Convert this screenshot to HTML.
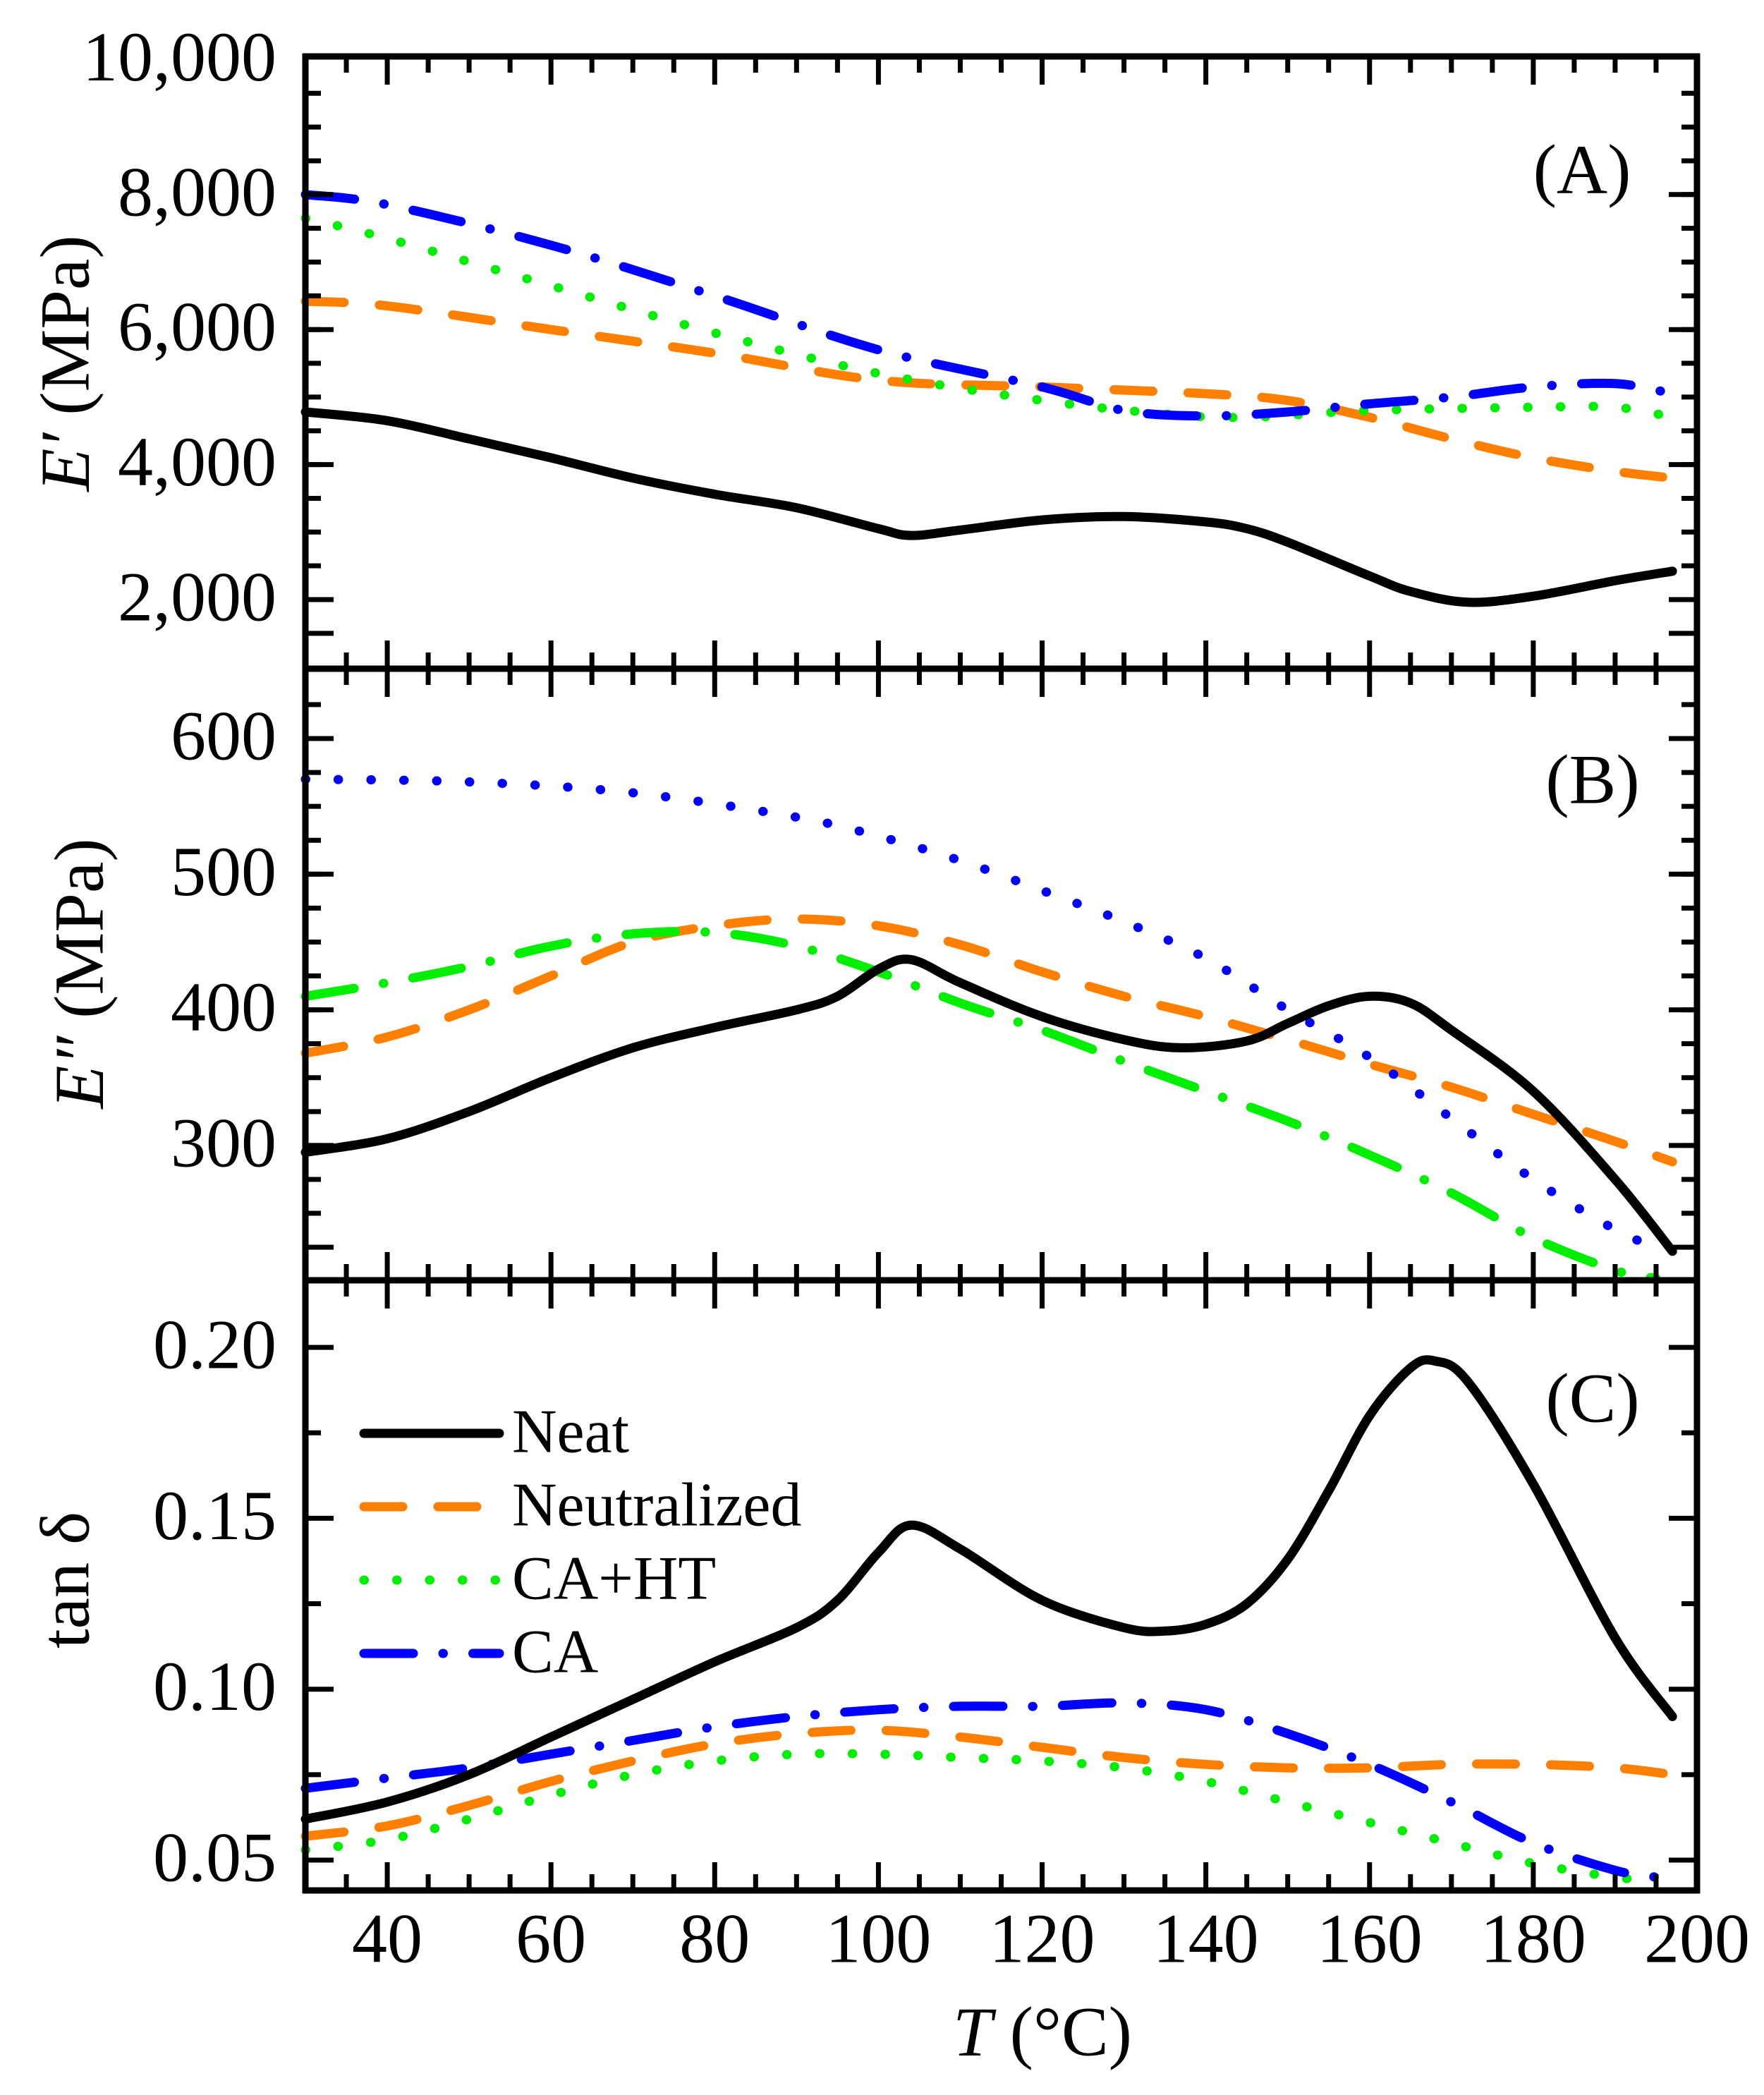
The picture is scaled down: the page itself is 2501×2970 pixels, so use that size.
<!DOCTYPE html>
<html><head><meta charset="utf-8">
<style>
html,body{margin:0;padding:0;background:#fff;}
svg{display:block;font-family:"Liberation Serif","DejaVu Serif",serif;}
</style></head>
<body>
<svg id="chart" xmlns="http://www.w3.org/2000/svg" width="2501" height="2970" viewBox="0 0 2501 2970">
<rect x="0" y="0" width="2501" height="2970" fill="#fff"/>
<g id="marks"></g>
<g id="axes"></g>
</svg>
<script>
// ---- Data ----
const tempA_neat = [30,40,50,60,70,80,90,100,104,110,120,130,140,145,150,160,165,172,180,190,197];
const eA_neat = [4780,4650,4380,4100,3800,3560,3360,3050,2950,3030,3180,3230,3150,3050,2850,2350,2120,1960,2050,2280,2420];
const tempA_neut = [30,40,60,80,100,120,140,150,160,170,180,190,197];
const eA_neut = [6420,6350,6000,5650,5250,5150,5050,4950,4700,4380,4100,3900,3800];
const tempA_caht = [30,40,60,80,100,120,135,145,160,180,190,197];
const eA_caht = [7650,7350,6650,5950,5350,4950,4750,4700,4800,4850,4850,4700];
const tempA_ca = [30,40,60,80,100,120,130,140,150,160,170,180,190,197];
const eA_ca = [8000,7850,7250,6500,5700,5150,4800,4720,4780,4900,5000,5150,5200,5050];

const tempB_neat = [30,40,50,60,70,80,90,95,100,104,110,120,130,137,145,150,155,160,165,170,180,190,197];
const eB_neat = [295,305,325,350,372,387,400,410,430,437,420,395,378,372,377,390,403,410,405,385,340,275,222];
const tempB_neut = [30,40,50,60,70,80,90,100,110,120,130,140,150,160,170,180,190,197];
const eB_neut = [368,380,400,425,450,462,467,462,448,428,410,395,378,360,343,323,303,288];
const tempB_blue = [30,50,70,90,100,110,120,130,140,150,160,170,180,190,195];
const eB_blue = [570,568,560,542,528,510,488,465,438,400,365,320,275,238,225];
const tempB_green = [30,40,50,60,70,80,90,100,110,120,130,140,150,160,170,180,190,195];
const eB_green = [410,420,432,447,456,457,447,428,405,385,362,340,318,293,265,232,208,202];

const tempC_neat = [30,40,50,60,70,80,90,95,100,104,110,120,130,135,140,145,150,155,160,165,168,172,180,190,197];
const tanC_neat = [0.062,0.067,0.075,0.086,0.097,0.108,0.118,0.126,0.140,0.148,0.141,0.126,0.118,0.117,0.119,0.125,0.138,0.158,0.180,0.194,0.196,0.190,0.160,0.115,0.092];
const tempC_neut = [30,40,50,60,70,80,90,100,110,120,130,140,150,160,170,180,190,197];
const tanC_neut = [0.057,0.060,0.066,0.073,0.079,0.084,0.087,0.088,0.086,0.083,0.080,0.078,0.077,0.077,0.078,0.078,0.077,0.075];
const tempC_caht = [30,40,50,60,70,80,90,100,110,120,130,140,150,160,170,180,190,195];
const tanC_caht = [0.053,0.056,0.062,0.069,0.075,0.079,0.081,0.081,0.080,0.079,0.077,0.073,0.067,0.061,0.055,0.049,0.045,0.044];
const tempC_ca = [30,40,50,60,70,80,90,100,110,120,130,140,150,160,170,180,190,195];
const tanC_ca = [0.071,0.074,0.077,0.081,0.085,0.089,0.092,0.094,0.095,0.095,0.096,0.094,0.087,0.078,0.067,0.055,0.047,0.045];

const xTickLabels = ["40","60","80","100","120","140","160","180","200"];
const aTickLabels = ["2,000","4,000","6,000","8,000","10,000"];
const bTickLabels = ["300","400","500","600"];
const cTickLabels = ["0.05","0.10","0.15","0.20"];
const legendLabels = ["Neat","Neutralized","CA+HT","CA"];

// ---- Scales ----
const X0=433, X1=2406;
function xs(t){ return X0 + (t-30)/(200-30)*(X1-X0); }
const PA={top:80,bot:948};
const PB={top:948,bot:1815};
const PC={top:1815,bot:2680};
function ysA(v){ return 850 - (v-2000)*0.0957; }
function ysB(v){ return 1047 - (v-600)*1.923; }
function ysC(v){ return 2637 - (v-0.05)*4846; }

const NS="http://www.w3.org/2000/svg";
const marks=document.getElementById('marks');
const axes=document.getElementById('axes');
function mk(tag, attrs, parent){ const e=document.createElementNS(NS,tag); for(const k in attrs) e.setAttribute(k,attrs[k]); parent.appendChild(e); return e; }

function smoothPath(pts){
  let d="M"+pts[0][0].toFixed(1)+","+pts[0][1].toFixed(1);
  for(let i=0;i<pts.length-1;i++){
    const p0=pts[i-1]||pts[i], p1=pts[i], p2=pts[i+1], p3=pts[i+2]||p2;
    const c1x=p1[0]+(p2[0]-p0[0])/6, c1y=p1[1]+(p2[1]-p0[1])/6;
    const c2x=p2[0]-(p3[0]-p1[0])/6, c2y=p2[1]-(p3[1]-p1[1])/6;
    d+=" C"+c1x.toFixed(1)+","+c1y.toFixed(1)+" "+c2x.toFixed(1)+","+c2y.toFixed(1)+" "+p2[0].toFixed(1)+","+p2[1].toFixed(1);
  }
  return d;
}
function drawSeries(ts, vs, yfn, color, dash, name){
  const pts=ts.map((t,i)=>[xs(t), yfn(vs[i])]);
  const p=mk('path',{d:smoothPath(pts),fill:"none",stroke:color,"stroke-width":13,"stroke-linecap":"round","stroke-linejoin":"round"},marks);
  if(dash) p.setAttribute('stroke-dasharray',dash);
  
  
}
// Panel A
drawSeries(tempA_neut,eA_neut,ysA,"#ff8000","55 50","neutralized-storage-modulus-line");
drawSeries(tempA_caht,eA_caht,ysA,"#00ee00","0.5 46","ca-ht-storage-modulus-line");
drawSeries(tempA_ca,eA_ca,ysA,"#0000ff","70 42 0.5 42","ca-storage-modulus-line");
drawSeries(tempA_neat,eA_neat,ysA,"#000",null,"neat-storage-modulus-line");
// Panel B
drawSeries(tempB_neut,eB_neut,ysB,"#ff8000","55 50","neutralized-loss-modulus-line");
drawSeries(tempB_blue,eB_blue,ysB,"#0000ff","0.5 46","ca-loss-modulus-line");
drawSeries(tempB_green,eB_green,ysB,"#00ee00","70 42 0.5 42","ca-ht-loss-modulus-line");
drawSeries(tempB_neat,eB_neat,ysB,"#000",null,"neat-loss-modulus-line");
// Panel C
drawSeries(tempC_neut,tanC_neut,ysC,"#ff8000","55 50","neutralized-tan-delta-line");
drawSeries(tempC_caht,tanC_caht,ysC,"#00ee00","0.5 46","ca-ht-tan-delta-line");
drawSeries(tempC_ca,tanC_ca,ysC,"#0000ff","70 42 0.5 42","ca-tan-delta-line");
drawSeries(tempC_neat,tanC_neat,ysC,"#000",null,"neat-tan-delta-line");

// ---- Axes ----
function line(x1,y1,x2,y2,w,name){
  const l=mk('line',{x1:x1,y1:y1,x2:x2,y2:y2,stroke:"#000","stroke-width":w,"stroke-linecap":"butt"},axes);
  
  
}
function text(x,y,s,size,anchor,name){
  const t=mk('text',{x:x,y:y,"font-size":size,"text-anchor":anchor,"dominant-baseline":"central",fill:"#000"},axes);
  t.textContent=s;
  
  
  return t;
}
const borders=[PA.top,PA.bot,PB.bot,PC.bot];
borders.forEach((by,bi)=>{
  for(let t=35;t<200;t+=5){
    const major=(t%20===0);
    const len=major?40:23;
    const up=(bi>0), down=(bi<3);
    line(xs(t), up?by-len:by, xs(t), down?by+len:by, 7, major?"x-major-tick":"x-minor-tick");
  }
});
function yTicks(yfn,v0,v1,step,majorEvery,name){
  let k=0;
  for(let v=v0; v<=v1+1e-9; v+=step,k++){
    const y=yfn(v);
    const major=(k%majorEvery===0);
    const len=major?40:22;
    line(X0,y,X0+len,y,7,name+(major?"-major-tick":"-minor-tick"));
    line(X1-len,y,X1,y,7,name+(major?"-major-tick-right":"-minor-tick-right"));
  }
}
yTicks(ysA,1500,9500,500,100,"a-y");
[2000,4000,6000,8000].forEach(v=>{const y=ysA(v); line(X0,y,X0+40,y,7,"a-y-major-tick"); line(X1-40,y,X1,y,7,"a-y-major-tick-right");});
yTicks(ysB,225,625,25,100,"b-y");
[300,400,500,600].forEach(v=>{const y=ysB(v); line(X0,y,X0+40,y,7,"b-y-major-tick"); line(X1-40,y,X1,y,7,"b-y-major-tick-right");});
yTicks(ysC,0.05,0.2,0.025,2,"c-y");

line(X0,PA.top-4,X0,PC.bot+4,9,"left-axis-line");
line(X1,PA.top-4,X1,PC.bot+4,9,"right-axis-line");
borders.forEach((by,i)=>line(X0-4,by,X1+4,by,9,"panel-border-"+i));

const xTickVals=[40,60,80,100,120,140,160,180,200];
xTickVals.forEach((v,i)=>text(xs(v),2748,xTickLabels[i],100,"middle","x-tick-label"));
const aVals=[2000,4000,6000,8000,10000];
aVals.forEach((v,i)=>text(392,ysA(v)-4,aTickLabels[i],100,"end","a-y-tick-label"));
const bVals=[300,400,500,600];
bVals.forEach((v,i)=>text(392,ysB(v)-4,bTickLabels[i],100,"end","b-y-tick-label"));
const cVals=[0.05,0.10,0.15,0.20];
cVals.forEach((v,i)=>text(392,ysC(v)-4,cTickLabels[i],100,"end","c-y-tick-label"));

text(2243,240,"(A)",100,"middle","panel-label-a");
text(2258,1105,"(B)",100,"middle","panel-label-b");
text(2258,1982,"(C)",100,"middle","panel-label-c");

(function(){
  const t=mk('text',{x:0,y:0,"font-size":100,"text-anchor":"middle","dominant-baseline":"central",transform:"translate(92,515) rotate(-90)"},axes);
  t.innerHTML='<tspan font-style="italic">E\u2032</tspan> (MPa)';
  
  
  const t2=mk('text',{x:0,y:0,"font-size":100,"text-anchor":"middle","dominant-baseline":"central",transform:"translate(112,1380) rotate(-90)"},axes);
  t2.innerHTML='<tspan font-style="italic">E\u2033</tspan> (MPa)';
  
  
  const t3=mk('text',{x:0,y:0,"font-size":100,"text-anchor":"middle","dominant-baseline":"central",transform:"translate(92,2240) rotate(-90)"},axes);
  t3.textContent='tan \u03b4';
  
  
  const t4=mk('text',{x:1478,y:2880,"font-size":100,"text-anchor":"middle","dominant-baseline":"central"},axes);
  t4.innerHTML='<tspan font-style="italic">T</tspan> (\u00b0C)';
  
  
})();

const legColors=["#000","#ff8000","#00ee00","#0000ff"];
const legDash=[null,"55 50","0.5 46","70 42 0.5 42"];
const legY=[2032,2136,2240,2344];
legendLabels.forEach((s,i)=>{
  const l=mk('line',{x1:516,y1:legY[i],x2:708,y2:legY[i],stroke:legColors[i],"stroke-width":13,"stroke-linecap":"round"},axes);
  if(legDash[i]) l.setAttribute('stroke-dasharray',legDash[i]);
  
  
  text(726,legY[i]-2,s,88,"start","legend-entry-label");
});
</script>
</body></html>
